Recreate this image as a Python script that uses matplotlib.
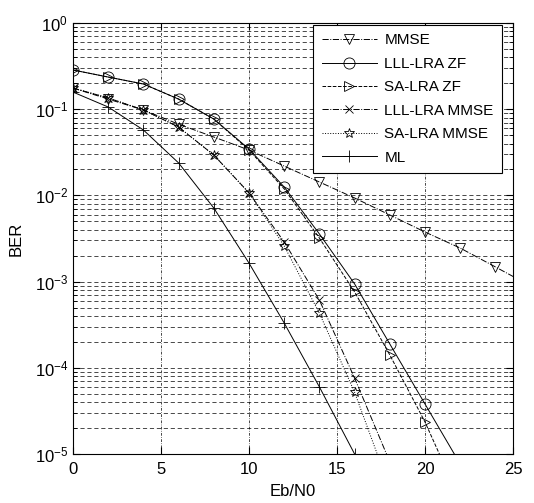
import matplotlib
matplotlib.use("Agg")
import matplotlib.pyplot as plt
import numpy as np
from matplotlib.ticker import LogLocator, NullFormatter, FixedLocator

plt.rcParams['font.family'] = ['Liberation Sans', 'DejaVu Sans']
plt.rcParams['mathtext.default'] = 'regular'

# Eb/N0 (dB)
snr_mmse = [0, 2, 4, 6, 8, 10, 12, 14, 16, 18, 20, 22, 24, 26]
ber_mmse = [0.176, 0.131, 0.098, 0.067, 0.0476, 0.0336, 0.0219, 0.0143,
            0.00933, 0.00593, 0.00376, 0.00245, 0.00148, 8.9e-4]

snr_zf = [0, 2, 4, 6, 8, 10, 12, 14, 16, 18, 20, 22]
ber_lll_zf = [0.285, 0.236, 0.196, 0.131, 0.0769, 0.0345, 0.0125, 0.00357,
              9.4e-4, 1.89e-4, 3.8e-5, 7.65e-6]
ber_sa_zf = [0.285, 0.236, 0.196, 0.131, 0.0769, 0.0336, 0.0119, 0.0032,
             7.6e-4, 1.41e-4, 2.35e-5, 2.9e-6]

snr_lmmse = [0, 2, 4, 6, 8, 10, 12, 14, 16, 18]
ber_lll_mmse = [0.176, 0.135, 0.098, 0.0621, 0.0294, 0.0107, 0.00288,
                6.1e-4, 7.6e-5, 8.1e-6]
ber_sa_mmse = [0.176, 0.135, 0.098, 0.0621, 0.0294, 0.0107, 0.00259,
               4.3e-4, 5.2e-5, 4.0e-6]

snr_ml = [0, 2, 4, 6, 8, 10, 12, 14, 16]
ber_ml = [0.158, 0.106, 0.0574, 0.0238, 0.00714, 0.00164, 3.31e-4,
          6.0e-5, 1.0e-5]

labels = ['MMSE', 'LLL-LRA ZF', 'SA-LRA ZF', 'LLL-LRA MMSE', 'SA-LRA MMSE', 'ML']
x_ticks = [0, 5, 10, 15, 20, 25]

fig = plt.figure(figsize=(5.34, 5.03), dpi=100)
ax = fig.add_axes([73/534, 1-454/503, 440/534, 431/503])

lw = 0.7
common = dict(color='black', lw=lw, markerfacecolor='none',
              markeredgecolor='black', markeredgewidth=0.6)
ax.plot(snr_mmse, ber_mmse, linestyle='-.', marker='v', markersize=7,
        label=labels[0], **common)
ax.plot(snr_zf, ber_lll_zf, linestyle='-', marker='o', markersize=8,
        label=labels[1], **common)
ax.plot(snr_zf, ber_sa_zf, linestyle='--', marker='>', markersize=7,
        label=labels[2], **common)
ax.plot(snr_lmmse, ber_lll_mmse, linestyle='-.', marker='x', markersize=6,
        label=labels[3], **common)
ax.plot(snr_lmmse, ber_sa_mmse, linestyle=':', marker='*', markersize=7,
        label=labels[4], **common)
ax.plot(snr_ml, ber_ml, linestyle='-', marker='+', markersize=8,
        label=labels[5], **common)

ax.set_yscale('log')
ax.set_xlim(0, 25)
ax.set_ylim(1e-5, 1)
ax.xaxis.set_major_locator(FixedLocator(x_ticks))
ax.yaxis.set_major_locator(LogLocator(base=10, numticks=10))
ax.yaxis.set_minor_locator(LogLocator(base=10, subs=np.arange(2, 10), numticks=20))
ax.yaxis.set_minor_formatter(NullFormatter())

ax.grid(True, which='major', axis='y', color='black', linestyle=(0, (6, 4)), lw=0.5)
ax.grid(True, which='minor', axis='y', color='black', linestyle=(0, (6, 4)), lw=0.5)
ax.grid(True, which='major', axis='x', color='black', linestyle=(0, (4, 2, 1, 2)), lw=0.5)

ax.tick_params(which='both', direction='in', top=True, right=True, labelsize=12)
ax.tick_params(which='major', length=5)
ax.tick_params(which='minor', length=3)
ax.tick_params(axis='x', pad=6)
for s in ax.spines.values():
    s.set_linewidth(0.8)

ax.set_xlabel('Eb/N0', fontsize=12, labelpad=5)
ax.set_ylabel('BER', fontsize=12, labelpad=8)

leg = ax.legend(loc='upper right', bbox_to_anchor=(502/534, 1 - 25/503),
                bbox_transform=fig.transFigure, fontsize=11, handlelength=3.6,
                fancybox=False, edgecolor='black', framealpha=1,
                borderaxespad=0.0, labelspacing=0.62, handletextpad=0.5,
                borderpad=0.55)
leg.get_frame().set_linewidth(0.8)

fig.savefig('out.png', dpi=100)
